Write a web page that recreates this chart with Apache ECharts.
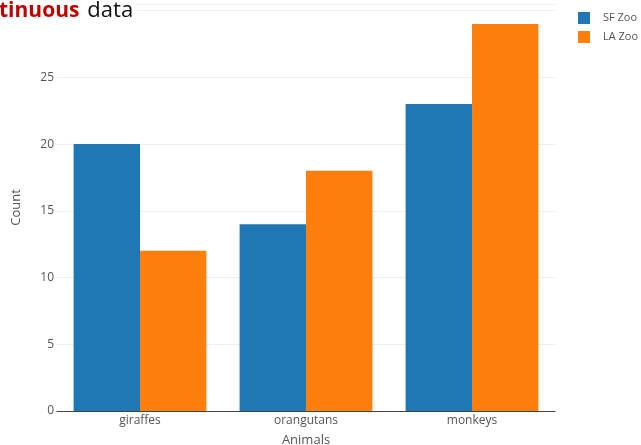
<!DOCTYPE html>
<html><head><meta charset="utf-8">
<script src="https://cdn.jsdelivr.net/npm/echarts@6/dist/echarts.min.js"></script>
<style>html,body{margin:0;padding:0;background:#fff}#c{width:641px;height:445px}</style>
</head><body><div id="c"></div>
<script>
const categories = ['giraffes', 'orangutans', 'monkeys'];
const sfZoo = [20, 14, 23];
const laZoo = [12, 18, 29];
const seriesNames = ['SF Zoo', 'LA Zoo'];
const chart = echarts.init(document.getElementById('c'));
const font = '"Open Sans", sans-serif';
chart.setOption({
  animation: false,
  title: {
    text: '{r|tinuous}{b|data}',
    left: -1, top: 0, padding: [0, 4, 6, 0],
    backgroundColor: '#fff',
    textStyle: {
      rich: {
        r: {color: '#c00000', fontWeight: 'bold', fontSize: 21, fontFamily: font, padding: [0, 8, 0, 0]},
        b: {color: '#111', fontWeight: 'normal', fontSize: 22, fontFamily: font}
      }
    },
    z: 10
  },
  legend: {
    orient: 'vertical', left: 578, top: 12, padding: 0, itemWidth: 12, itemHeight: 12, itemGap: 7,
    icon: 'rect',
    textStyle: {color: '#555', fontSize: 11, fontFamily: font, padding: [0, 0, 0, 8]},
    data: seriesNames
  },
  grid: {left: 57, right: 86, top: 4, bottom: 34, containLabel: false, outerBoundsMode: 'none'},
  xAxis: {
    type: 'category', data: categories,
    name: 'Animals', nameLocation: 'middle', nameGap: 23,
    nameTextStyle: {color: '#555', fontSize: 13, fontFamily: font},
    axisLine: {show: true, lineStyle: {color: '#444', width: 1}},
    axisTick: {show: false},
    axisLabel: {color: '#555', fontSize: 12, fontFamily: font, margin: 4}
  },
  yAxis: {
    type: 'value', min: 0, max: 30.5, interval: 5,
    name: 'Count', nameLocation: 'middle', nameGap: 34,
    nameTextStyle: {color: '#555', fontSize: 13, fontFamily: font},
    axisLine: {show: false}, axisTick: {show: false},
    axisLabel: {color: '#555', fontSize: 12, fontFamily: font, margin: 3},
    splitLine: {lineStyle: {color: '#eee', width: 1}}
  },
  series: [
    {name: seriesNames[0], type: 'bar', data: sfZoo, barGap: '0%', barCategoryGap: '20%', itemStyle: {color: '#1f77b4'}},
    {name: seriesNames[1], type: 'bar', data: laZoo, barGap: '0%', barCategoryGap: '20%', itemStyle: {color: '#ff7f0e'}}
  ]
});
</script></body></html>
